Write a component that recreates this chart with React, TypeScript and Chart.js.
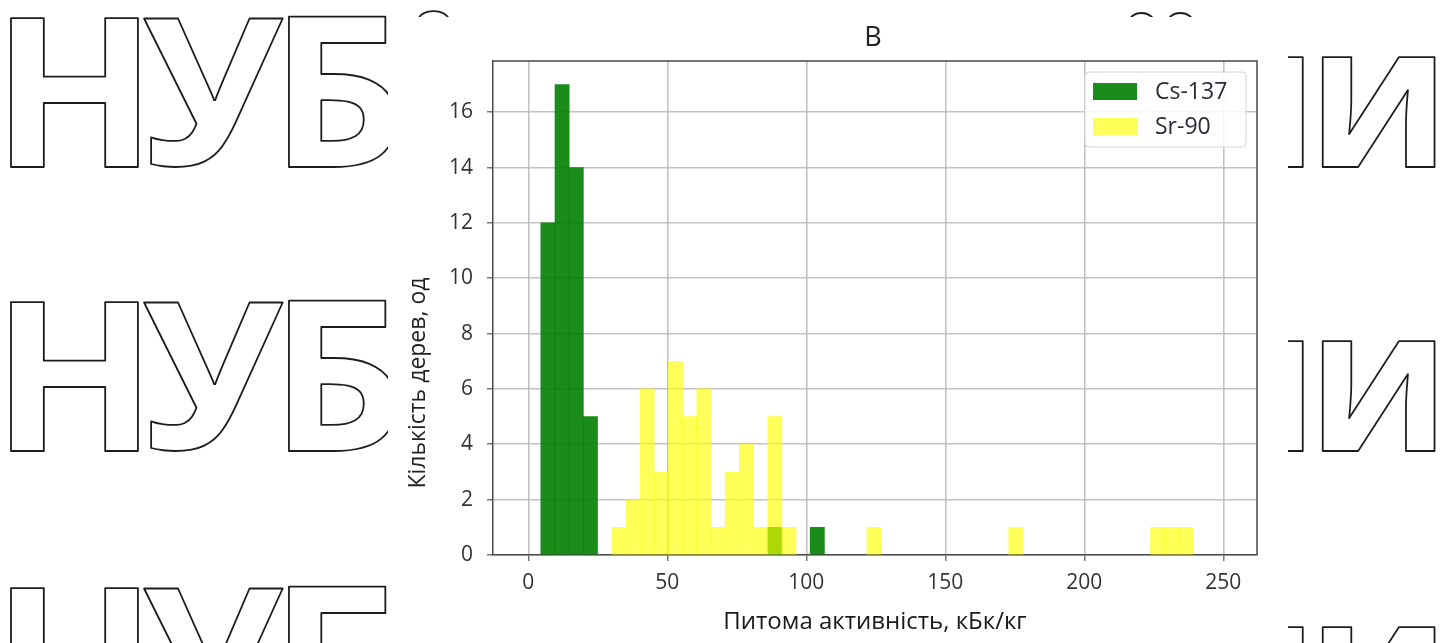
import React, { useEffect, useRef } from "react";
import { Chart, registerables } from "chart.js";

Chart.register(...registerables);

// ---- Data (histogram, shared bins) ----
const binStart = 4.5; // left edge of first bin, kBq/kg
const binWidth = 5.1; // bin width, kBq/kg
const csCounts = [
  12, 17, 14, 5, 0, 0, 0, 0, 0, 0, 0, 0, 0, 0, 0, 0, 1, 0, 0, 1, 0, 0, 0, 0, 0,
  0, 0, 0, 0, 0, 0, 0, 0, 0, 0, 0, 0, 0, 0, 0, 0, 0, 0, 0, 0, 0,
];
const srCounts = [
  0, 0, 0, 0, 0, 1, 2, 6, 3, 7, 5, 6, 1, 3, 4, 1, 5, 1, 0, 0, 0, 0, 0, 1, 0,
  0, 0, 0, 0, 0, 0, 0, 0, 1, 0, 0, 0, 0, 0, 0, 0, 0, 0, 1, 1, 1,
];
const seriesLabels = ["Cs-137", "Sr-90"];
const xTicks = [0, 50, 100, 150, 200, 250];
const yTicks = [0, 2, 4, 6, 8, 10, 12, 14, 16];
const chartTitle = "В";
const xTitle = "Питома активність, кБк/кг";
const yTitle = "Кількість дерев, од";
const watermarkLeft = ["Н", "У", "Б", "і"];
const watermarkRight = ["ї", "н", "и"];

const FONT = "'Open Sans', 'Noto Sans', sans-serif";

function fitGlyph(
  ctx: CanvasRenderingContext2D,
  ch: string,
  x0: number,
  x1: number,
  top: number,
  bottom: number
) {
  ctx.save();
  ctx.font = `700 200px ${FONT}`;
  ctx.textAlign = "left";
  ctx.textBaseline = "alphabetic";
  const m = ctx.measureText(ch);
  const gw = m.actualBoundingBoxLeft + m.actualBoundingBoxRight;
  const gh = m.actualBoundingBoxAscent + m.actualBoundingBoxDescent;
  const sx = (x1 - x0) / gw;
  const sy = (bottom - top) / gh;
  ctx.translate(x0, top);
  ctx.scale(sx, sy);
  ctx.lineWidth = 1.8 / Math.sqrt(sx * sy);
  ctx.strokeStyle = "#1c1c1c";
  ctx.lineJoin = "round";
  ctx.strokeText(ch, m.actualBoundingBoxLeft, m.actualBoundingBoxAscent);
  ctx.restore();
}

const decorPlugin = {
  id: "decor",
  beforeDraw(chart: any) {
    const ctx: CanvasRenderingContext2D = chart.ctx;
    const W = chart.width;
    const H = chart.height;
    ctx.save();
    ctx.fillStyle = "#ffffff";
    ctx.fillRect(0, 0, W, H);
    const rows = [18, 302, 588];
    const capH = 149;
    const xh = 110;
    rows.forEach((t) => {
      const b = t + capH;
      fitGlyph(ctx, watermarkLeft[0], 10, 138, t, b);
      fitGlyph(ctx, watermarkLeft[1], 143, 283, t, b);
      fitGlyph(ctx, watermarkLeft[2], 288, 397, t, b);
      fitGlyph(ctx, watermarkLeft[3], 417, 450, t - 6, b);
      fitGlyph(ctx, watermarkRight[0], 1128, 1195, t - 6, b);
      fitGlyph(ctx, watermarkRight[1], 1203, 1303, b - xh, b);
      fitGlyph(ctx, watermarkRight[2], 1322, 1435, b - xh, b);
    });
    // white figure background
    ctx.fillStyle = "#ffffff";
    ctx.fillRect(388, 17, 1288 - 388, H - 17);
    ctx.restore();
  },
  afterDraw(chart: any) {
    const ctx: CanvasRenderingContext2D = chart.ctx;
    const a = chart.chartArea;
    ctx.save();
    // top and right frame
    ctx.strokeStyle = "#4a4a4a";
    ctx.lineWidth = 1.5;
    ctx.beginPath();
    ctx.moveTo(a.left, a.top);
    ctx.lineTo(a.right, a.top);
    ctx.lineTo(a.right, a.bottom);
    ctx.stroke();

    // title
    ctx.fillStyle = "#222";
    ctx.font = `400 27px ${FONT}`;
    ctx.textAlign = "center";
    ctx.textBaseline = "middle";
    ctx.fillText(chartTitle, (a.left + a.right) / 2 - 2, 38);

    // y title
    ctx.save();
    ctx.translate(418, 383);
    ctx.rotate(-Math.PI / 2);
    ctx.font = `400 23px ${FONT}`;
    ctx.fillText(yTitle, 0, 0);
    ctx.restore();

    // legend inside plot, upper right
    const lx = a.right - 172;
    const ly = a.top + 11;
    const lw = 161;
    const lh = 75;
    ctx.beginPath();
    const r = 4;
    ctx.moveTo(lx + r, ly);
    ctx.lineTo(lx + lw - r, ly);
    ctx.quadraticCurveTo(lx + lw, ly, lx + lw, ly + r);
    ctx.lineTo(lx + lw, ly + lh - r);
    ctx.quadraticCurveTo(lx + lw, ly + lh, lx + lw - r, ly + lh);
    ctx.lineTo(lx + r, ly + lh);
    ctx.quadraticCurveTo(lx, ly + lh, lx, ly + lh - r);
    ctx.lineTo(lx, ly + r);
    ctx.quadraticCurveTo(lx, ly, lx + r, ly);
    ctx.closePath();
    ctx.fillStyle = "rgba(255,255,255,0.85)";
    ctx.fill();
    ctx.strokeStyle = "#d6d6d6";
    ctx.lineWidth = 1;
    ctx.stroke();
    chart.data.datasets.forEach((ds: any, i: number) => {
      const cy = ly + 19 + i * 35;
      ctx.fillStyle = "#ffffff";
      ctx.fillRect(lx + 8, cy - 8, 44, 17);
      ctx.fillStyle = ds.backgroundColor;
      ctx.fillRect(lx + 8, cy - 8, 44, 17);
      ctx.fillStyle = "#2a2a3a";
      ctx.font = `400 23px ${FONT}`;
      ctx.textAlign = "left";
      ctx.textBaseline = "middle";
      ctx.fillText(ds.label, lx + 70, cy + 1);
    });
    ctx.restore();
  },
};

export default function App() {
  const ref = useRef<HTMLCanvasElement | null>(null);
  useEffect(() => {
    if (!ref.current) return;
    const centers = csCounts.map((_, i) => binStart + binWidth * (i + 0.5));
    const gridColor = "rgba(185,185,185,0.85)";
    const chart = new Chart(ref.current, {
      type: "bar",
      data: {
        datasets: [
          {
            label: seriesLabels[0],
            data: csCounts.map((c, i) => ({ x: centers[i], y: c === 0 ? null : c })),
            backgroundColor: "rgba(0,128,0,0.9)",
            borderWidth: 0,
            grouped: false,
            skipNull: true,
            barPercentage: 1,
            categoryPercentage: 1,
            order: 2,
          } as any,
          {
            label: seriesLabels[1],
            data: srCounts.map((c, i) => ({ x: centers[i], y: c === 0 ? null : c })),
            backgroundColor: "rgba(255,255,0,0.65)",
            borderWidth: 0,
            grouped: false,
            skipNull: true,
            barPercentage: 1,
            categoryPercentage: 1,
            order: 1,
          } as any,
        ],
      },
      options: {
        responsive: false,
        animation: false,
        devicePixelRatio: 1,
        layout: { padding: { left: 433, right: 194, top: 61, bottom: 0 } },
        plugins: {
          legend: { display: false },
          tooltip: { enabled: false },
          title: { display: false },
        },
        scales: {
          x: {
            type: "linear",
            min: -12.7,
            max: 262.1,
            offset: false,
            afterFit: (s: any) => {
              s.height = 88;
            },
            afterBuildTicks: (s: any) => {
              s.ticks = xTicks.map((v) => ({ value: v }));
            },
            ticks: {
              font: { family: FONT, size: 21 },
              color: "#333",
              padding: 9,
              maxRotation: 0,
            },
            grid: {
              offset: false,
              color: gridColor,
              lineWidth: 1.6,
              tickLength: 6,
              tickColor: "#555",
              tickWidth: 1.2,
            },
            border: { display: true, color: "#4a4a4a", width: 1.5 },
            title: {
              display: true,
              text: xTitle,
              font: { family: FONT, size: 24 },
              color: "#1a1a1a",
              padding: { top: 4, bottom: 6 },
            },
          },
          y: {
            type: "linear",
            min: 0,
            max: 17.85,
            afterFit: (s: any) => {
              s.width = 60;
            },
            afterBuildTicks: (s: any) => {
              s.ticks = yTicks.map((v) => ({ value: v }));
            },
            ticks: {
              font: { family: FONT, size: 21 },
              color: "#333",
              padding: 14,
            },
            grid: {
              color: gridColor,
              lineWidth: 1.6,
              tickLength: 6,
              tickColor: "#555",
              tickWidth: 1.2,
            },
            border: { display: true, color: "#4a4a4a", width: 1.5 },
          },
        },
      },
      plugins: [decorPlugin],
    });
    return () => chart.destroy();
  }, []);
  return (
    <div style={{ position: "absolute", left: 0, top: 0, width: 1451, height: 643 }}>
      <canvas ref={ref} width={1451} height={643} />
    </div>
  );
}
